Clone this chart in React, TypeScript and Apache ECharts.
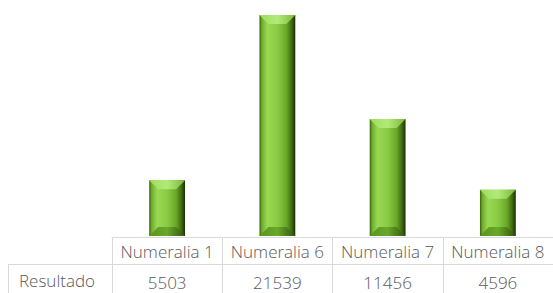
import React, { useEffect, useRef } from "react";
import * as echarts from "echarts";

const categories = ["Numeralia 1", "Numeralia 6", "Numeralia 7", "Numeralia 8"];
const values = [5503, 21539, 11456, 4596];
const rowLabel = "Resultado";

const FONT = "'Open Sans', 'DejaVu Sans', sans-serif";
const TEXT = "#595959";
const LINE = "#d9d9d9";

export default function App() {
  const ref = useRef<HTMLDivElement>(null);
  useEffect(() => {
    if (!ref.current) return;
    const chart = echarts.init(ref.current, null, { renderer: "svg" });
    const data = values.map((v, i) => [i, v]);
    chart.setOption({
      animation: false,
      grid: { left: 112, right: -4, top: 15, bottom: 56, containLabel: false },
      xAxis: [
        {
          type: "category",
          data: categories,
          boundaryGap: true,
          axisLine: { show: true, lineStyle: { color: LINE, width: 1 } },
          axisTick: { show: true, alignWithLabel: false, length: 58, lineStyle: { color: LINE, width: 1 } },
          axisLabel: {
            margin: 14,
            verticalAlign: "middle",
            color: TEXT,
            fontFamily: FONT,
            fontSize: 17,
            fontWeight: 300,
            interval: 0,
          },
          splitLine: { show: false },
        },
        {
          type: "category",
          data: values.map((v) => String(v)),
          position: "bottom",
          boundaryGap: true,
          axisLine: { show: false },
          axisTick: { show: false },
          axisLabel: {
            margin: 45,
            verticalAlign: "middle",
            color: TEXT,
            fontFamily: FONT,
            fontSize: 17,
            fontWeight: 300,
            interval: 0,
          },
        },
      ],
      yAxis: { type: "value", min: 0, max: "dataMax", show: false },
      series: [
        {
          type: "custom",
          xAxisIndex: 0,
          data,
          clip: false,
          renderItem: (params: any, api: any) => {
            const top = api.coord([api.value(0), api.value(1)]);
            const bot = api.coord([api.value(0), 0]);
            const w = api.size([1, 0])[0] * 0.325;
            const x0 = top[0] - w / 2;
            const x1 = top[0] + w / 2;
            const yt = top[1];
            const yb = bot[1] - 1;
            const h = yb - yt;
            const b = Math.min(9, h / 2.5);
            return {
              type: "group",
              children: [
                {
                  type: "rect",
                  shape: { x: x0, y: yt, width: w, height: h },
                  style: {
                    fill: new echarts.graphic.LinearGradient(0, 0, 1, 0, [
                      { offset: 0, color: "#3c6010" },
                      { offset: 0.07, color: "#6fae2e" },
                      { offset: 0.22, color: "#9ad852" },
                      { offset: 0.5, color: "#8acb44" },
                      { offset: 0.75, color: "#6aa828" },
                      { offset: 0.9, color: "#3e6a12" },
                      { offset: 1, color: "#1c2c06" },
                    ]),
                  },
                },
                {
                  type: "polygon",
                  shape: { points: [[x0, yt], [x1, yt], [x1 - b, yt + b], [x0 + b, yt + b]] },
                  style: {
                    fill: new echarts.graphic.LinearGradient(0, 0, 1, 0, [
                      { offset: 0, color: "#9fdc5c" },
                      { offset: 0.5, color: "#b2ea78" },
                      { offset: 1, color: "#7cb83a" },
                    ]),
                  },
                },
                {
                  type: "polygon",
                  shape: { points: [[x0, yb], [x1, yb], [x1 - b, yb - b], [x0 + b, yb - b]] },
                  style: {
                    fill: new echarts.graphic.LinearGradient(0, 0, 1, 0, [
                      { offset: 0, color: "#5a9420" },
                      { offset: 0.5, color: "#6aa82a" },
                      { offset: 1, color: "#30540a" },
                    ]),
                  },
                },
              ],
            };
          },
        },
      ],
      graphic: [
        {
          type: "line",
          shape: { x1: 8, y1: 264.5, x2: 553, y2: 264.5 },
          style: { stroke: LINE, lineWidth: 1 },
        },
        {
          type: "line",
          shape: { x1: 8.5, y1: 264.5, x2: 8.5, y2: 293 },
          style: { stroke: LINE, lineWidth: 1 },
        },
        {
          type: "text",
          x: 57,
          y: 280,
          style: {
            text: rowLabel,
            fill: TEXT,
            font: `300 17px ${FONT}`,
            align: "center",
            verticalAlign: "middle",
          },
        },
      ],
    });
    return () => chart.dispose();
  }, []);
  return <div ref={ref} style={{ width: 553, height: 293, position: "absolute", left: 0, top: 0 }} />;
}
